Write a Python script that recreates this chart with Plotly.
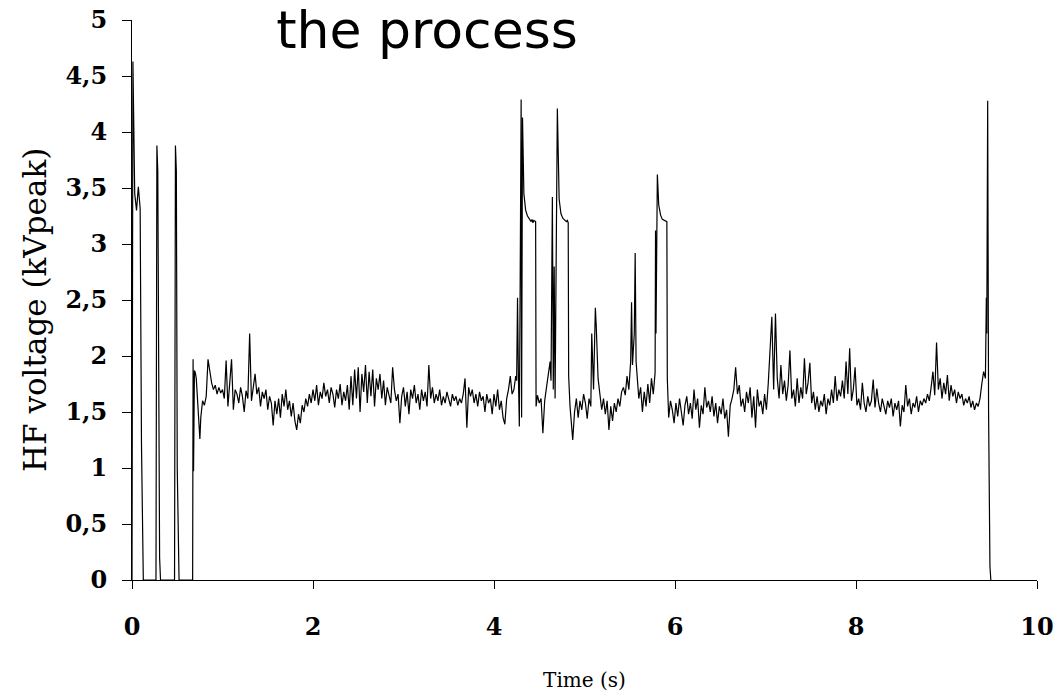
import numpy as np
import plotly.graph_objects as go

# HF voltage (kVpeak) against time (s)

# ignition attempts before the discharge settles
startup_t = [0.0, 0.01, 0.03, 0.05, 0.07, 0.09, 0.105, 0.115, 0.125,
             0.265, 0.275, 0.285, 0.295, 0.305, 0.315,
             0.47, 0.48, 0.49, 0.50, 0.51, 0.52,
             0.67, 0.675, 0.68, 0.69, 0.70, 0.71, 0.73, 0.75]
startup_kv = [0.0, 4.63, 3.45, 3.30, 3.51, 3.32, 1.20, 0.30, 0.0,
              0.0, 3.88, 3.65, 1.00, 0.20, 0.0,
              0.0, 3.88, 3.65, 1.00, 0.20, 0.0,
              0.0, 1.97, 0.97, 1.87, 1.85, 1.80, 1.50, 1.26]

# steady discharge, one reading every 0.02 s from 0.76 s
steady_a_start = 0.76
steady_a_kv = [
    1.45, 1.60, 1.56, 1.64, 1.97, 1.84, 1.76, 1.70, 1.74, 1.66,
    1.72, 1.67, 1.70, 1.62, 1.96, 1.55, 1.74, 1.97, 1.52, 1.70,
    1.66, 1.58, 1.72, 1.64, 1.50, 1.69, 1.62, 2.20, 1.60, 1.74,
    1.84, 1.66, 1.72, 1.55, 1.68, 1.62, 1.70, 1.52, 1.64, 1.58,
    1.38, 1.60, 1.48, 1.62, 1.45, 1.66, 1.55, 1.70, 1.52, 1.60,
    1.46, 1.58, 1.42, 1.34, 1.48, 1.40, 1.56, 1.50, 1.62, 1.55,
    1.66, 1.58, 1.70, 1.60, 1.74, 1.56, 1.68, 1.62, 1.76, 1.64,
    1.70, 1.58, 1.72, 1.66, 1.54, 1.70, 1.62, 1.75, 1.56, 1.68,
    1.60, 1.74, 1.52, 1.82, 1.56, 1.88, 1.62, 1.90, 1.50, 1.84,
    1.68, 1.92, 1.58, 1.86, 1.64, 1.88, 1.55, 1.80, 1.70, 1.84,
    1.62, 1.78, 1.56, 1.72, 1.66, 1.58, 1.90, 1.70, 1.60, 1.66,
    1.40, 1.64, 1.72, 1.55, 1.68, 1.48, 1.70, 1.62, 1.74, 1.58,
    1.66, 1.52, 1.70, 1.60, 1.68, 1.55, 1.92, 1.62, 1.72, 1.58,
    1.66, 1.60, 1.70, 1.56, 1.64, 1.58, 1.68, 1.62, 1.55, 1.66,
    1.60, 1.64, 1.56, 1.62, 1.58, 1.66, 1.80, 1.36, 1.72, 1.64,
    1.70, 1.58, 1.66, 1.55, 1.68, 1.60, 1.64, 1.50, 1.66, 1.58,
    1.62, 1.48, 1.66, 1.55, 1.70, 1.52, 1.60, 1.45, 1.39, 1.62,
    1.70, 1.82, 1.66,
]

# the three plateau bursts and the smaller spikes between them
burst_t = [4.22, 4.24, 4.25, 4.26, 4.27, 4.28, 4.29, 4.30, 4.305, 4.315,
           4.33, 4.35, 4.37, 4.39, 4.41, 4.42, 4.43, 4.44, 4.45, 4.46,
           4.465, 4.48, 4.50, 4.52, 4.54, 4.56, 4.58, 4.60, 4.62, 4.63,
           4.645, 4.655, 4.665, 4.675, 4.685, 4.70, 4.72, 4.74, 4.76, 4.78,
           4.80, 4.81, 4.82, 4.825, 4.84, 4.87, 4.89, 4.91, 4.93, 4.95,
           4.97, 4.99, 5.01, 5.03, 5.05, 5.07, 5.08, 5.10, 5.12, 5.13,
           5.15, 5.17, 5.19, 5.21, 5.23, 5.25, 5.27, 5.29, 5.31, 5.33,
           5.35, 5.37, 5.39, 5.41, 5.43, 5.45, 5.47, 5.49, 5.51, 5.52,
           5.53, 5.55, 5.56, 5.57, 5.58, 5.60, 5.62, 5.64, 5.66, 5.68,
           5.70, 5.72, 5.74, 5.76, 5.78, 5.785, 5.79, 5.795, 5.805, 5.82,
           5.84, 5.86, 5.88, 5.90, 5.91, 5.915, 5.93, 5.95]
burst_kv = [1.70, 1.82, 1.78, 2.52, 1.80, 1.37, 2.80, 4.29, 1.45, 4.13,
            3.45, 3.30, 3.25, 3.22, 3.20, 3.22, 3.19, 3.21, 3.20, 3.20,
            1.55, 1.65, 1.58, 1.62, 1.31, 1.60, 1.72, 1.85, 1.95, 1.78,
            3.42, 1.70, 2.80, 1.62, 2.60, 4.21, 3.40, 3.27, 3.23, 3.21,
            3.20, 3.21, 3.19, 1.82, 1.55, 1.25, 1.50, 1.62, 1.45, 1.60,
            1.52, 1.66, 1.58, 1.44, 1.62, 1.55, 2.20, 1.70, 2.43, 2.26,
            1.80, 1.66, 1.52, 1.62, 1.48, 1.60, 1.34, 1.55, 1.42, 1.58,
            1.50, 1.62, 1.55, 1.68, 1.72, 1.65, 1.82, 1.70, 1.95, 2.48,
            1.92, 2.20, 2.92, 1.95, 1.80, 1.62, 1.72, 1.50, 1.68, 1.55,
            1.75, 1.58, 1.80, 1.66, 1.85, 3.12, 2.20, 3.14, 3.62, 3.35,
            3.26, 3.22, 3.21, 3.20, 3.20, 1.80, 1.45, 1.60]

# steady discharge again, one reading every 0.02 s from 5.97 s
steady_b_start = 5.97
steady_b_kv = [
    1.52, 1.40, 1.58, 1.46, 1.62, 1.50, 1.38, 1.56, 1.64, 1.48,
    1.58, 1.44, 1.70, 1.52, 1.62, 1.36, 1.56, 1.48, 1.72, 1.54,
    1.60, 1.50, 1.64, 1.46, 1.58, 1.40, 1.55, 1.48, 1.62, 1.44,
    1.52, 1.28, 1.56, 1.62, 1.70, 1.90, 1.66, 1.74, 1.55, 1.62,
    1.50, 1.68, 1.58, 1.72, 1.45, 1.64, 1.36, 1.70, 1.55, 1.60,
    1.48, 1.66, 1.52, 1.75, 2.10, 2.35, 1.70, 2.38, 1.80, 1.62,
    1.92, 1.66, 1.78, 1.60, 1.74, 2.05, 1.62, 1.70, 1.55, 1.80,
    1.58, 1.72, 1.62, 1.98, 1.66, 1.76, 1.94, 1.58, 1.68, 1.52,
    1.64, 1.50, 1.60, 1.55, 1.66, 1.48, 1.62, 1.56, 1.70, 1.58,
    1.82, 1.60, 1.70, 1.64, 1.78, 1.62, 1.95, 1.66, 2.07, 1.60,
    1.70, 1.90, 1.56, 1.62, 1.52, 1.76, 1.58, 1.50, 1.64, 1.55,
    1.60, 1.79, 1.54, 1.71, 1.58, 1.50, 1.62, 1.56, 1.48, 1.60,
    1.54, 1.62, 1.46, 1.58, 1.52, 1.60, 1.37, 1.56, 1.50, 1.74,
    1.55, 1.62, 1.48, 1.58, 1.54, 1.64, 1.50, 1.60, 1.56, 1.62,
    1.58, 1.66, 1.60, 1.72, 1.86, 1.65, 2.12, 1.70, 1.80, 1.62,
    1.76, 1.66, 1.83, 1.60, 1.74, 1.64, 1.70, 1.58, 1.68, 1.62,
    1.66, 1.56, 1.62, 1.58, 1.64, 1.54, 1.60, 1.52, 1.58, 1.55,
    1.62, 1.75, 1.86,
]

# final spike as the discharge goes out
shutdown_t = [9.43, 9.44, 9.445, 9.455, 9.465, 9.472, 9.48, 9.49]
shutdown_kv = [1.80, 2.52, 2.20, 4.28, 1.50, 0.50, 0.12, 0.0]

x_ticks = [0, 2, 4, 6, 8, 10]
y_ticks = [0, 0.5, 1, 1.5, 2, 2.5, 3, 3.5, 4, 4.5, 5]

# stitch the pieces into one trace
steady_a_t = np.round(steady_a_start + 0.02 * np.arange(len(steady_a_kv)), 3)
steady_b_t = np.round(steady_b_start + 0.02 * np.arange(len(steady_b_kv)), 3)
time_s = np.concatenate([startup_t, steady_a_t, burst_t, steady_b_t, shutdown_t])
voltage_kv = np.concatenate([startup_kv, steady_a_kv, burst_kv, steady_b_kv, shutdown_kv])

serif = "DejaVu Serif"

fig = go.Figure()
fig.add_scatter(
    x=time_s,
    y=voltage_kv,
    mode="lines",
    line=dict(color="black", width=1.2),
    hoverinfo="skip",
    showlegend=False,
)

fig.update_layout(
    width=1060,
    height=694,
    margin=dict(l=132, r=23, t=20, b=114, autoexpand=False),
    paper_bgcolor="white",
    plot_bgcolor="white",
    separators=", ",
    title=dict(
        text="the process",
        font=dict(family="DejaVu Sans", size=52, color="black"),
        xref="paper", x=(427 - 132) / 905, xanchor="center",
        yref="container", y=1 - 30 / 694, yanchor="middle",
    ),
    # y title placed by hand, it sits a little below the axis centre
    annotations=[dict(
        text="HF voltage (kVpeak)",
        textangle=-90,
        xref="paper", x=(35 - 132) / 905, xanchor="center",
        yref="paper", y=(580 - 310) / 560, yanchor="middle",
        showarrow=False,
        font=dict(family=serif, size=31, color="black"),
    )],
)

fig.update_xaxes(
    range=[0, 10],
    tickvals=x_ticks,
    ticks="outside",
    ticklen=8,
    tickcolor="black",
    ticklabelstandoff=17,
    showline=True,
    linecolor="black",
    linewidth=1,
    showgrid=False,
    zeroline=False,
    automargin=False,
    tickfont=dict(family=serif, size=24, color="black", weight="bold"),
    title=dict(text="Time (s)", standoff=33,
               font=dict(family=serif, size=20, color="black")),
)

fig.update_yaxes(
    range=[0, 5],
    tickvals=y_ticks,
    ticks="outside",
    ticklen=9,
    tickcolor="black",
    ticklabelstandoff=10,
    showline=True,
    linecolor="black",
    linewidth=1,
    showgrid=False,
    zeroline=False,
    automargin=False,
    tickfont=dict(family=serif, size=24, color="black", weight="bold"),
)

# page margin off so the 1060x694 figure fills the window exactly
fig.write_html(
    "out.html",
    config={"displayModeBar": False},
    post_script="document.body.style.margin='0';",
)
